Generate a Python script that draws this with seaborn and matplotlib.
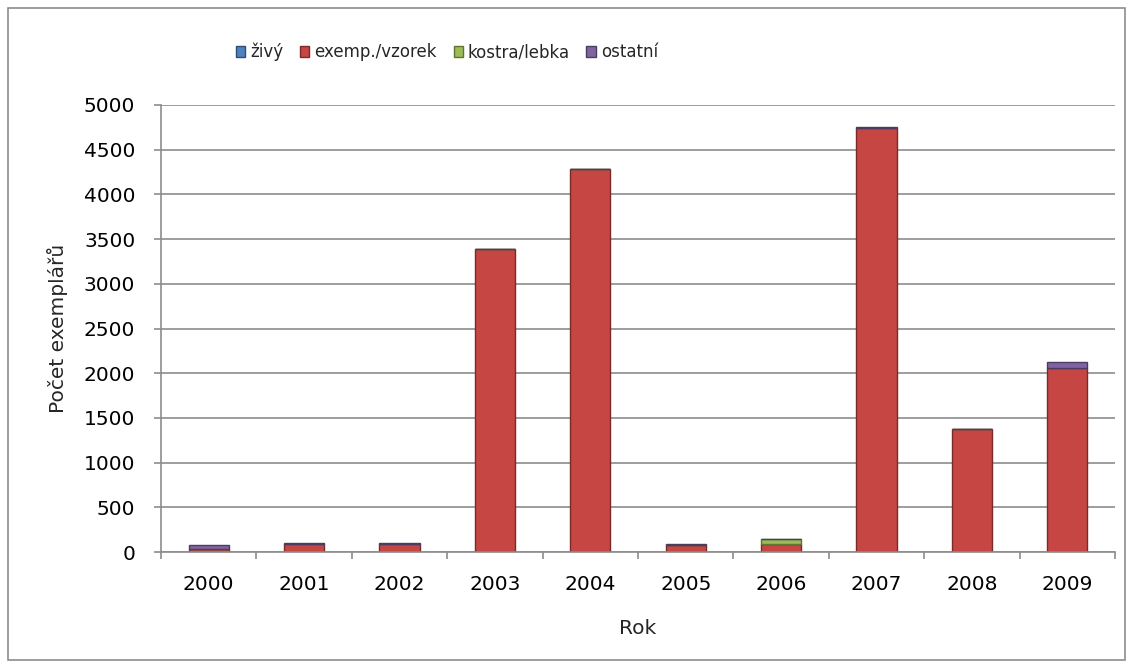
import numpy as np
import pandas as pd
import seaborn as sns
import matplotlib.pyplot as plt
from matplotlib.patches import Rectangle

#data
years = ['2000', '2001', '2002', '2003', '2004', '2005', '2006', '2007', '2008', '2009']
zivy = [0, 0, 0, 0, 0, 0, 0, 0, 0, 0]
exemp_vzorek = [35, 90, 95, 3390, 4280, 80, 90, 4740, 1375, 2060]
kostra_lebka = [0, 0, 0, 0, 0, 0, 60, 0, 0, 0]
ostatni = [45, 12, 8, 0, 0, 5, 0, 10, 0, 70]

series_names = ['živý', 'exemp./vzorek', 'kostra/lebka', 'ostatní']
series_values = [zivy, exemp_vzorek, kostra_lebka, ostatni]
colors = ['#4F81BD', '#C54643', '#9BBB59', '#8064A2']
edges = ['#2C4D75', '#7A2A28', '#5F7530', '#4D3B62']

sns.set_theme(style='white')
plt.rcParams['font.family'] = ['DejaVu Sans']

W, H = 1134, 666
fig = plt.figure(figsize=(W / 100, H / 100), dpi=100)
ax = fig.add_axes([161 / W, 1 - 552 / H, (1115 - 161) / W, (552 - 105) / H])

#outer chart border
fig.patches.append(Rectangle((8 / W, 6 / H), 1117 / W, 652 / H, transform=fig.transFigure,
                             fill=False, edgecolor='#8C8C8C', linewidth=1.2))

df = pd.DataFrame({'Rok': years})
bottom = np.zeros(len(years))
for name, vals, col, ec in zip(series_names, series_values, colors, edges):
    sns.barplot(x=df['Rok'], y=np.array(vals), bottom=bottom, color=col, width=0.42, saturation=1,
                edgecolor=ec, linewidth=1.0, ax=ax, legend=False)
    bottom = bottom + np.array(vals)

ax.set_ylim(0, 5000)
ax.set_xlim(-0.5, len(years) - 0.5)
ax.set_yticks(np.arange(0, 5001, 500))
ax.yaxis.grid(True, color='#8C8C8C', linewidth=1.2)
ax.set_axisbelow(True)
for s in ['top', 'right']:
    ax.spines[s].set_visible(False)
for s in ['left', 'bottom']:
    ax.spines[s].set_color('#8C8C8C')
    ax.spines[s].set_linewidth(1.2)

ax.set_xticks(np.arange(-0.5, len(years), 1), minor=True)
ax.tick_params(axis='x', which='minor', length=5, color='#8C8C8C', width=1.2, bottom=True)
ax.tick_params(axis='x', which='major', length=0, pad=23.5, labelsize=14.5, colors='black')
ax.tick_params(axis='y', length=5, color='#8C8C8C', width=1.2, left=True, labelsize=14.5,
               colors='black', pad=13.5)
for lab in ax.get_xticklabels():
    lab.set_verticalalignment('center')

ax.set_xlabel('Rok', fontsize=14.5)
ax.set_ylabel('Počet exemplářů', fontsize=14.5)
ax.xaxis.set_label_coords(0.5, (552 - 628) / 447)
ax.yaxis.set_label_coords((57 - 161) / 954, 0.5)
ax.xaxis.label.set_verticalalignment('center')
ax.yaxis.label.set_verticalalignment('center')

handles = [Rectangle((0, 0), 1, 1, facecolor=c, edgecolor=e) for c, e in zip(colors, edges)]
fig.legend(handles, series_names, loc='center', bbox_to_anchor=(447 / W, 1 - 52 / H), ncol=4,
           frameon=False, fontsize=12, handlelength=0.55, handleheight=0.7, handletextpad=0.3,
           columnspacing=1.0, borderpad=0)

plt.savefig('out.png', dpi=100)
